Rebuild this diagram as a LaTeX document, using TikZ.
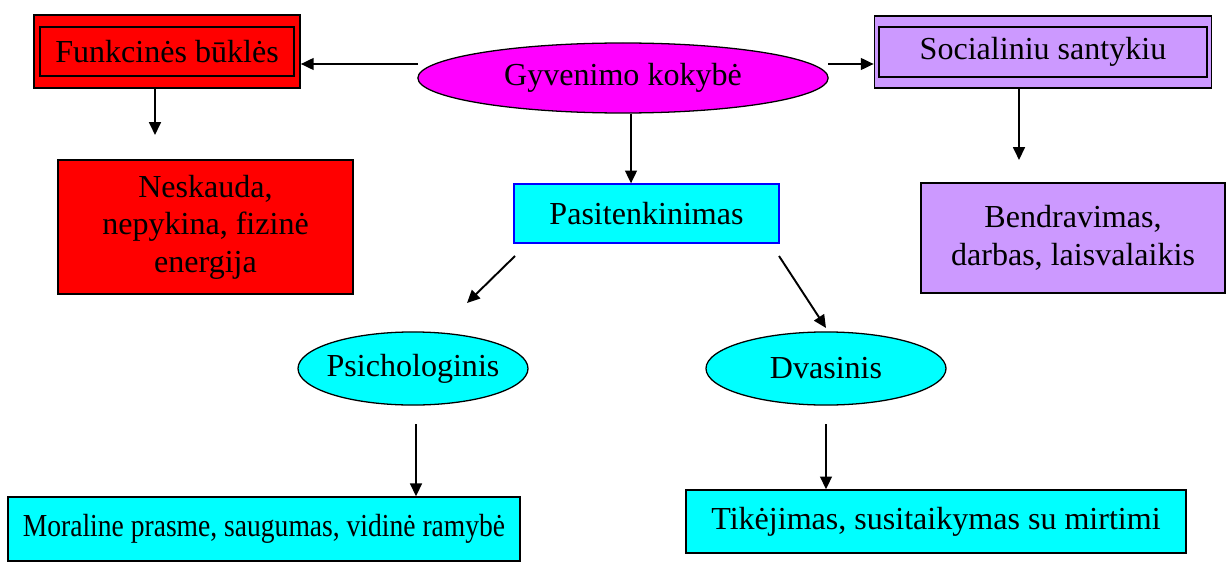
\documentclass[tikz,border=0pt]{standalone}
\usepackage{fontspec}
\setmainfont{Liberation Serif}
\usepackage{tikz}
\usetikzlibrary{shapes.geometric,arrows.meta}
\definecolor{boxred}{HTML}{FF0000}
\definecolor{lilac}{HTML}{CC99FF}
\definecolor{aqua}{HTML}{00FFFF}
\definecolor{pink}{HTML}{FF00FF}
\tikzset{
    txt/.style={font=\fontsize{12.5}{14.6}\selectfont, align=center, inner sep=0pt},
    outerbox/.style={rectangle, draw=black, line width=0.7pt},
    innerbox/.style={rectangle, draw=black, line width=0.7pt, txt},
    plainbox/.style={rectangle, draw=black, line width=0.5pt, txt},
    oval/.style={ellipse, draw=black, line width=0.5pt, txt},
    arr/.style={-{Triangle[length=5pt,width=4.6pt]}, line width=0.75pt}
}
\begin{document}
\begin{tikzpicture}[x=0.39pt,y=-0.39pt]
    \useasboundingbox (0,0) rectangle (1226,562);

    % top row
    \node[outerbox, fill=boxred, minimum width=103.7pt, minimum height=28.5pt] (fb) at (167,51.5) {};
    \node[innerbox, minimum width=99pt, minimum height=19.1pt] (fbin) at (167,51.5) {Funkcinės būklės};

    \node[oval, fill=pink, minimum width=160pt, minimum height=27.3pt] (gk) at (623,78) {Gyvenimo kokybė};

    \node[outerbox, fill=lilac, minimum width=131.4pt, minimum height=28.1pt] (sc) at (1043,52) {};
    \node[innerbox, minimum width=127.9pt, minimum height=19.5pt] (scin) at (1043,52) {Socialiniu santykiu};

    % second row
    \node[plainbox, fill=boxred, minimum width=115pt, minimum height=52.3pt] (ne) at (205.5,227)
        {Neskauda,\\ nepykina, fizinė\\ energija};
    \node[plainbox, fill=aqua, draw=blue, minimum width=103.4pt, minimum height=23pt] (ps) at (646.5,213.5)
        {Pasitenkinimas};
    \node[plainbox, fill=lilac, minimum width=118.6pt, minimum height=42.9pt] (be) at (1073,238)
        {Bendravimas,\\ darbas, laisvalaikis};

    % third row
    \node[oval, fill=aqua, inner xsep=-4pt, minimum width=89.7pt, minimum height=28.5pt] (psi) at (413,368.5) {Psichologinis};
    \node[oval, fill=aqua, minimum width=93.6pt, minimum height=28.5pt] (dv) at (826,368.5) {Dvasinis};

    % bottom row
    \node[plainbox, fill=aqua, minimum width=199.7pt, minimum height=25pt] (mp) at (264,529)
        {\scalebox{0.86}[1]{Moraline prasme, saugumas, vidinė ramybė}};
    \node[plainbox, fill=aqua, minimum width=195pt, minimum height=24.6pt] (tk) at (936,521.5)
        {Tikėjimas, susitaikymas su mirtimi};

    % free ends
    \coordinate (gkl) at (418,64);
    \coordinate (gkr) at (828,64);
    \coordinate (fbd) at (155,135);
    \coordinate (scd) at (1019,160);
    \coordinate (psl) at (515,256);
    \coordinate (psld) at (467,303);
    \coordinate (psr) at (779,256);
    \coordinate (psrd) at (826,328);
    \coordinate (psid) at (416,424);
    \coordinate (dvd) at (826,424);

    % connectors
    \draw[arr] (gkl) -- (gkl -| fb.east);
    \draw[arr] (gkr) -- (gkr -| sc.west);
    \draw[arr] (fbd |- fb.south) -- (fbd);
    \draw[arr] (scd |- sc.south) -- (scd);
    \draw[arr] (631,0 |- gk.south) -- (631,0 |- ps.north);
    \draw[arr] (psl) -- (psld);
    \draw[arr] (psr) -- (psrd);
    \draw[arr] (psid) -- (psid |- mp.north);
    \draw[arr] (dvd) -- (dvd |- tk.north);
\end{tikzpicture}
\end{document}
